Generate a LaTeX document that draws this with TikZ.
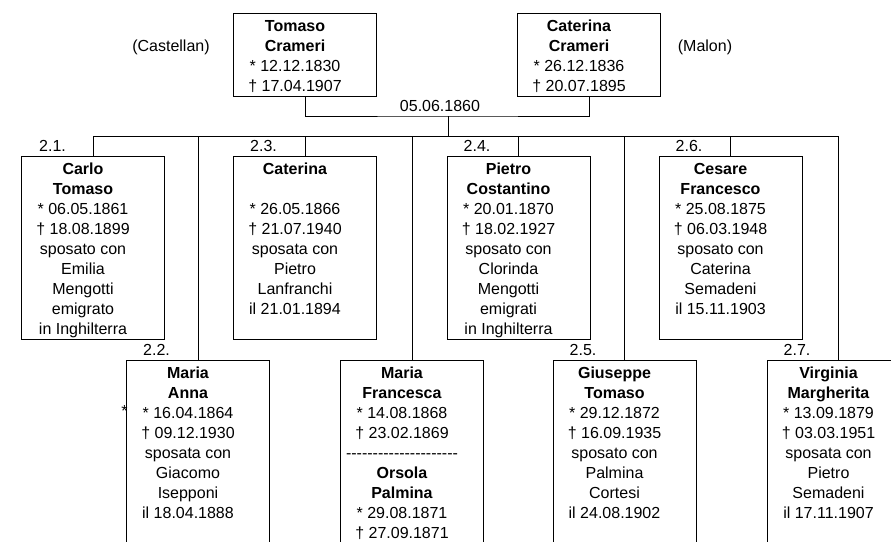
\documentclass[tikz,border=0pt]{standalone}
\usepackage{fontspec}
\setmainfont{Liberation Sans}
\usetikzlibrary{positioning}
\newcommand{\treefont}{\fontsize{16pt}{20pt}\selectfont}
\newcommand{\cardtext}[2]{\parbox[t][#1][t]{143pt}{\centering\rightskip=20pt plus 1fil\rule{0pt}{18pt}#2}}
\newcommand{\dashrow}{\foreach \k in {1,...,21}{-}}

\begin{document}
\begin{tikzpicture}[
				x=1pt, y=1pt,
				card/.style={draw, line width=1pt, inner sep=0pt, anchor=north, font=\treefont},
				note/.style={font=\treefont, inner sep=0pt, anchor=base},
				numlabel/.style={font=\treefont, inner sep=0pt},
				conn/.style={line width=1pt}
				]
				\useasboundingbox (0,0) rectangle (891,-541);
				\clip (0,0) rectangle (891,-541);
				
				% Parents
				\node[card] (tomaso) at (305,-13) {\cardtext{83pt}{\textbf{Tomaso}\\\textbf{Crameri}\\{*} 12.12.1830\\† 17.04.1907}};
				\node[card] (crameri) at (589,-13) {\cardtext{83pt}{\textbf{Caterina}\\\textbf{Crameri}\\{*} 26.12.1836\\† 20.07.1895}};
				\node[note] (castellan) at (171,-51) {(Castellan)};
				\node[note] (malon) at (705,-51) {(Malon)};
				\node[note] (weddate) at (440,-111) {05.06.1860};
				\coordinate (wed) at (448,-116);
				\coordinate (bus) at (448,-136);
				
				% Children, first row
				\node[card] (c21) at (93,-156) {\cardtext{183pt}{\textbf{Carlo}\\\textbf{Tomaso}\\{*} 06.05.1861\\† 18.08.1899\\sposato con\\Emilia\\Mengotti\\emigrato\\in Inghilterra}};
				\node[card] (c23) at (305,-156) {\cardtext{183pt}{\textbf{Caterina}\\[20pt]{*} 26.05.1866\\† 21.07.1940\\sposata con\\Pietro\\Lanfranchi\\il 21.01.1894}};
				\node[card] (c24) at (518.5,-156) {\cardtext{183pt}{\textbf{Pietro}\\\textbf{Costantino}\\{*} 20.01.1870\\† 18.02.1927\\sposato con\\Clorinda\\Mengotti\\emigrati\\in Inghilterra}};
				\node[card] (c26) at (730.5,-156) {\cardtext{183pt}{\textbf{Cesare}\\\textbf{Francesco}\\{*} 25.08.1875\\† 06.03.1948\\sposato con\\Caterina\\Semadeni\\il 15.11.1903}};
				
				% Children, second row
				\node[note] (stray) at (124.5,-416) {*};
				\node[card] (c22) at (198,-360) {\cardtext{190pt}{\textbf{Maria}\\\textbf{Anna}\\{*} 16.04.1864\\† 09.12.1930\\sposata con\\Giacomo\\Isepponi\\il 18.04.1888}};
				\node[card] (cinf) at (412,-360) {\cardtext{190pt}{\textbf{Maria}\\\textbf{Francesca}\\{*} 14.08.1868\\† 23.02.1869\\\dashrow\\\textbf{Orsola}\\\textbf{Palmina}\\{*} 29.08.1871\\† 27.09.1871}};
				\node[card] (c25) at (624.5,-360) {\cardtext{190pt}{\textbf{Giuseppe}\\\textbf{Tomaso}\\{*} 29.12.1872\\† 16.09.1935\\sposato con\\Palmina\\Cortesi\\il 24.08.1902}};
				\node[card] (c27) at (838.5,-360) {\cardtext{190pt}{\textbf{Virginia}\\\textbf{Margherita}\\{*} 13.09.1879\\† 03.03.1951\\sposata con\\Pietro\\Semadeni\\il 17.11.1907}};
				
				% Numbers
				\node[numlabel, above right=4pt and 18pt of c21.north west] (n21) {2.1.};
				\node[numlabel, above right=4pt and 17pt of c22.north west] (n22) {2.2.};
				\node[numlabel, above right=4pt and 17pt of c23.north west] (n23) {2.3.};
				\node[numlabel, above right=4pt and 17pt of c24.north west] (n24) {2.4.};
				\node[numlabel, above right=4pt and 17pt of c25.north west] (n25) {2.5.};
				\node[numlabel, above right=4pt and 17pt of c26.north west] (n26) {2.6.};
				\node[numlabel, above right=4pt and 17pt of c27.north west] (n27) {2.7.};
				
				% Lines
				\draw[conn] (tomaso.south) |- (wed) -| (crameri.south);
				\draw[conn] (wed) -- (bus);
				\draw[conn] (bus -| c21.north) -- (bus -| c27.north);
				\foreach \kid in {c21,c22,c23,cinf,c24,c25,c26,c27}
					\draw[conn] (bus -| \kid.north) -- (\kid.north);
			\end{tikzpicture}
\end{document}
